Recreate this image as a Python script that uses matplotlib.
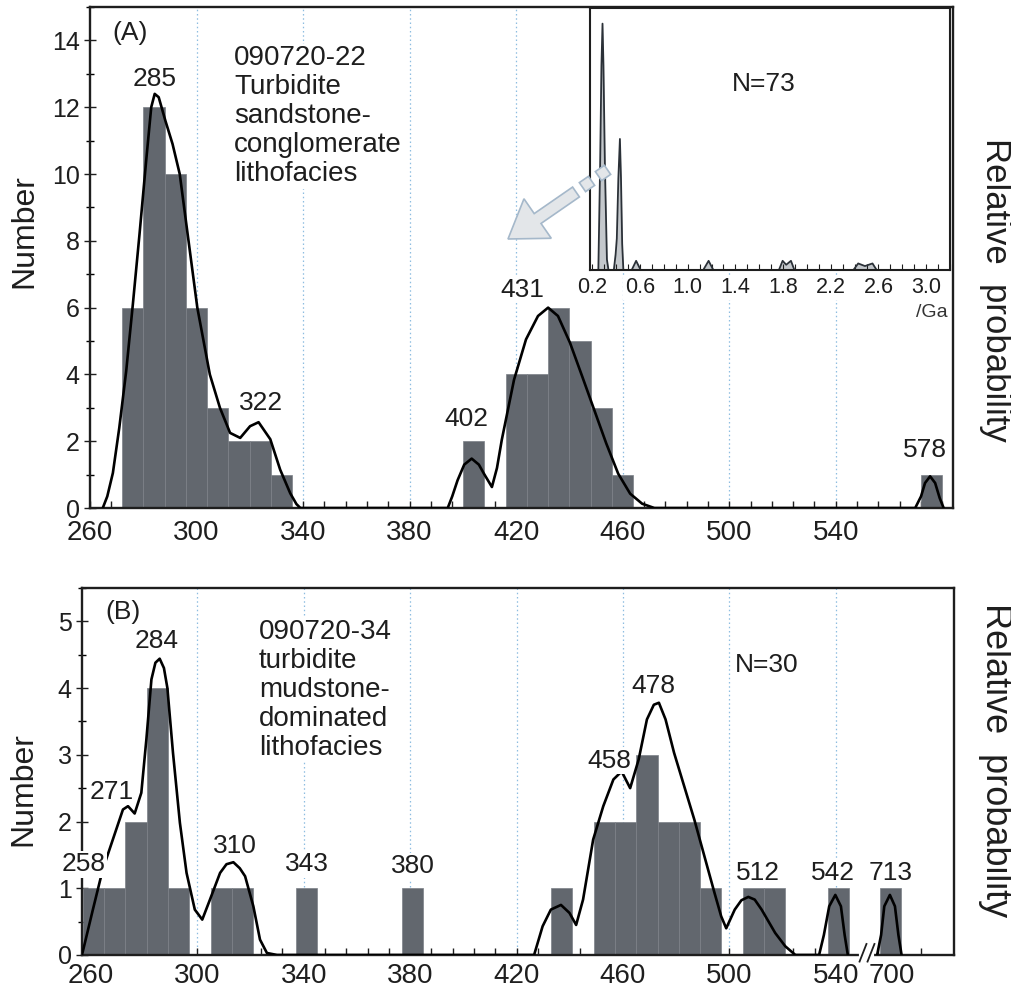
import numpy as np
import matplotlib.pyplot as plt
from matplotlib.patches import FancyArrow, Rectangle
from matplotlib.ticker import FixedLocator, MultipleLocator

plt.rcParams['font.family'] = ['Liberation Sans', 'DejaVu Sans']

# ---- (A) sample 090720-22, ages in Ma ----
a_bin_left = [272, 280, 288, 296, 304, 312, 320, 328, 400, 416, 424, 432, 440, 448, 456, 572]
a_counts = [6, 12, 10, 6, 3, 2, 2, 1, 2, 4, 4, 6, 5, 3, 1, 1]
a_kde_age = [264.8, 266.5, 268.6, 271, 273.6, 276.1, 278.6, 281.1, 283, 284.3, 285.8, 288.3,
             291, 293.7, 297, 300.3, 305, 308.8, 312.6, 316.4, 320.1, 323.3, 327.7, 331.4,
             335.2, 337.5, 339,
             394.3, 396, 398, 400.5, 403.3, 406, 407.9, 410.9, 412.8, 414.6, 419.2, 423.7,
             428.2, 432, 435.7, 440.2, 444.8, 449.3, 453.8, 458.3, 462.8, 467.3, 471.9,
             569.8, 572, 573.5, 575.4, 577.3, 579, 580.5]
a_kde_val = [0, 0.35, 1.05, 2.4, 4.1, 6.1, 8.2, 10.4, 12.0, 12.4, 12.3, 11.6,
             10.9, 10.0, 8.0, 6.0, 4.0, 3.0, 2.25, 2.1, 2.45, 2.57, 2.06, 1.15,
             0.44, 0.12, 0,
             0, 0.35, 0.83, 1.3, 1.48, 1.3, 1.03, 0.63, 1.2, 2.04, 3.84, 5.05,
             5.75, 6.0, 5.75, 4.95, 3.94, 2.94, 1.94, 1.03, 0.43, 0.13, 0,
             0, 0.35, 0.75, 0.95, 0.75, 0.3, 0]
a_peak_labels = ['285', '322', '402', '431', '578']

# ---- (B) sample 090720-34, ages in Ma (713 Ma grain sits after the axis break) ----
b_bin_left = [257, 265, 273, 281, 289, 305, 313, 337, 377, 433, 449, 457, 465, 473, 481,
              489, 505, 513, 537, 700.5]
b_counts = [1, 1, 2, 4, 1, 1, 1, 1, 1, 1, 2, 2, 3, 2, 2, 1, 1, 1, 1, 1]
b_kde_age = [256.7, 260.8, 264.5, 268.3, 272.1, 274, 276.5, 279, 280.9, 282.8, 284.3, 285.9,
             287.5, 288.8, 290.9, 293.5, 296, 299.1, 301.9, 304.8, 308.6, 311, 313.6, 316,
             318, 321.1, 323.6, 326.2, 330,
             426.6, 429.8, 432.9, 436.7, 439.9, 442.4, 445, 448.8, 452.6, 456.4, 459.5,
             462.7, 465.9, 469, 471.6, 473.5, 476, 479.2, 483, 486.8, 490.6, 494.4, 496.9,
             498.8, 502, 504.5, 507.1, 509.5, 512.1, 517.2, 521, 524.8,
             533.7, 535.5, 537.5, 539.8, 541.9, 543.3, 544.5]
b_kde_val = [0, 0.68, 1.28, 1.73, 2.18, 2.23, 2.12, 2.43, 3.23, 4.13, 4.38, 4.44,
             4.3, 4.0, 3.03, 1.98, 1.23, 0.68, 0.53, 0.83, 1.23, 1.36, 1.39, 1.3,
             1.18, 0.73, 0.23, 0.03, 0,
             0, 0.43, 0.68, 0.75, 0.63, 0.45, 0.83, 1.73, 2.23, 2.63, 2.75,
             2.5, 2.93, 3.53, 3.75, 3.78, 3.53, 3.03, 2.53, 2.03, 1.48, 0.93, 0.58,
             0.4, 0.68, 0.82, 0.87, 0.83, 0.68, 0.33, 0.13, 0,
             0, 0.3, 0.73, 0.9, 0.73, 0.3, 0]
b_kde2_age = [699.5, 701, 702.2, 704.3, 706.2, 707.5, 708.7]
b_kde2_val = [0, 0.3, 0.73, 0.9, 0.73, 0.3, 0]
b_peak_labels = ['258', '271', '284', '310', '343', '380', '458', '478', '512', '542', '713']

# ---- inset: full age spectrum of (A), in Ga ----
inset_age = [0.19, 0.25, 0.265, 0.276, 0.285, 0.293, 0.305, 0.322, 0.335, 0.38, 0.395, 0.405,
             0.418, 0.431, 0.44, 0.45, 0.46, 0.53, 0.567, 0.605, 1.13, 1.175, 1.215,
             1.765, 1.796, 1.826, 1.866, 1.895, 2.39, 2.43, 2.487, 2.55, 2.585, 3.2]
inset_prob = [0, 0, 0.4, 0.78, 0.94, 0.78, 0.4, 0.04, 0, 0, 0.06, 0.12,
              0.35, 0.5, 0.35, 0.1, 0, 0, 0.035, 0, 0, 0.035, 0,
              0, 0.035, 0.02, 0.035, 0, 0, 0.025, 0.015, 0.025, 0, 0]
inset_ticks = [0.2, 0.6, 1.0, 1.4, 1.8, 2.2, 2.6, 3.0]

BIN_W = 8
BREAK_SHIFT = 144       # 700 Ma is drawn where 556 would be
BAR = '#62676e'
GRID = '#8dbde0'
INK = '#1e1e1e'
WHITE_BOX = dict(boxstyle='square,pad=0.05', fc='white', ec='none')

# label centres in each panel's data coordinates (layout only)
a_label_xy = [(284.1, 12.84), (324.3, 3.15), (401.4, 2.67), (422.4, 6.54), (573.5, 1.74)]
b_label_xy = [(257.4, 1.36), (268, 2.44), (284.9, 4.71), (314.2, 1.63), (341.2, 1.36),
              (381.1, 1.33), (454.7, 2.91), (471.6, 4.03), (510.7, 1.23), (538.9, 1.23),
              (560.6, 1.23)]


def on_axis(ages):
    return [a - BREAK_SHIFT if a > 600 else a for a in ages]


def style_panel(ax, xticks, grid_at, xpad):
    for g in grid_at:
        ax.axvline(g, color=GRID, lw=0.9, ls=(0, (1.2, 2.2)), zorder=1)
    for s in ax.spines.values():
        s.set_linewidth(1.7)
        s.set_color(INK)
    ax.tick_params(axis='x', which='both', direction='in', length=5, width=1,
                   labelsize=20, pad=xpad, colors=INK)
    ax.tick_params(axis='y', which='major', direction='inout', length=9, width=1,
                   labelsize=18, pad=3, colors=INK)
    ax.tick_params(axis='y', which='minor', direction='inout', length=6, width=1)
    ax.xaxis.set_minor_locator(FixedLocator(xticks))


fig = plt.figure(figsize=(10.12, 9.89), dpi=100)

# ---------------- panel A ----------------
ax_a = fig.add_axes([0.0889, 0.4863, 0.8528, 0.5066])
ax_a.bar(a_bin_left, a_counts, width=BIN_W, align='edge', color=BAR,
         edgecolor='#7c8188', linewidth=0.5, zorder=2)
ax_a.plot(a_kde_age, a_kde_val, color='black', lw=1.9, zorder=3)
ax_a.set_xlim(260, 584)
ax_a.set_ylim(0, 15)
ax_a.set_xticks(range(260, 541, 40))
ax_a.set_yticks(range(0, 15, 2))
ax_a.yaxis.set_minor_locator(MultipleLocator(1))
style_panel(ax_a, np.arange(260, 584, 8), range(300, 541, 40), xpad=8.5)

for txt, (x, y) in zip(a_peak_labels, a_label_xy):
    ax_a.text(x, y, txt, fontsize=19, ha='center', va='center', color=INK,
              bbox=WHITE_BOX, zorder=4)
ax_a.text(275.1, 14.22, '(A)', fontsize=19, ha='center', va='center', color=INK)
ax_a.text(314.2, 13.85, '090720-22\nTurbidite\nsandstone-\nconglomerate\nlithofacies',
          fontsize=20, ha='left', va='top', linespacing=1.15, color=INK,
          bbox=WHITE_BOX, zorder=4)

# inset with the whole spectrum
ax_in = fig.add_axes([0.583, 0.727, 0.3557, 0.265])
ax_in.fill_between(inset_age, inset_prob, color='#c4c8cc', lw=0)
ax_in.plot(inset_age, inset_prob, color='#2b3138', lw=1.3)
ax_in.set_xlim(0.18, 3.2)
ax_in.set_ylim(0, 1)
ax_in.set_yticks([])
ax_in.set_xticks(inset_ticks)
ax_in.set_xticklabels([f'{t:.1f}' for t in inset_ticks])
ax_in.xaxis.set_minor_locator(MultipleLocator(0.1))
ax_in.tick_params(axis='x', which='both', direction='in', length=4, width=0.8,
                  labelsize=15.5, pad=5, colors=INK)
for lbl in ax_in.get_xticklabels():
    lbl.set_bbox(dict(boxstyle='square,pad=0.1', fc='white', ec='none'))
for s in ax_in.spines.values():
    s.set_linewidth(1.5)
    s.set_color(INK)
ax_in.text(1.64, 0.71, 'N=73', fontsize=19, ha='center', va='center', color=INK)
fig.text(932 / 1012, 1 - 312 / 989, '/Ga', fontsize=14, ha='center', va='center',
         color='#333333', bbox=WHITE_BOX)

# grey pointer from the inset down to the main panel
fig.add_artist(FancyArrow(5.76, 7.97, -0.68, -0.47, width=0.12, head_width=0.48,
                          head_length=0.36, length_includes_head=True,
                          fc='#e3e6e9', ec='#a5b8ca', lw=1.2,
                          transform=fig.dpi_scale_trans))
ang = np.degrees(np.arctan2(0.47, 0.68))
u = np.array([np.cos(np.radians(ang)), np.sin(np.radians(ang))])
v = np.array([-u[1], u[0]])
for c in [(5.87, 8.05), (6.03, 8.16)]:
    ll = np.array(c) - 0.055 * u - 0.055 * v
    fig.add_artist(Rectangle(ll, 0.11, 0.11, angle=ang, fc='#e3e6e9', ec='#a5b8ca',
                             lw=1.2, transform=fig.dpi_scale_trans))

# ---------------- panel B ----------------
ax_b = fig.add_axes([0.0810, 0.0344, 0.8617, 0.3711])
ax_b.bar(on_axis(b_bin_left), b_counts, width=BIN_W, align='edge', color=BAR,
         edgecolor='#7c8188', linewidth=0.5, zorder=2)
ax_b.plot(b_kde_age, b_kde_val, color='black', lw=1.9, zorder=3)
ax_b.plot(on_axis(b_kde2_age), b_kde2_val, color='black', lw=1.9, zorder=3)
ax_b.set_xlim(256.7, 584.4)
ax_b.set_ylim(0, 5.5)
ax_b.set_xticks(range(260, 541, 40))
ax_b.set_yticks(range(0, 6))
ax_b.yaxis.set_minor_locator(MultipleLocator(0.5))
style_panel(ax_b, list(range(260, 541, 8)) + on_axis([700, 708, 716]),
            range(300, 541, 40), xpad=6)
ax_b.annotate('700', xy=(561, 0), xycoords=('data', 'axes fraction'),
              xytext=(0, -6), textcoords='offset points', ha='center', va='top',
              fontsize=20, color=INK)

# axis break marks
ax_b.plot([549.5, 553.5], [0, 0], transform=ax_b.get_xaxis_transform(),
          color='white', lw=3, clip_on=False, zorder=5)
for x0 in (548.9, 551.9):
    ax_b.plot([x0, x0 + 2.6], [-0.018, 0.03], transform=ax_b.get_xaxis_transform(),
              color=INK, lw=1.3, clip_on=False, zorder=6)

for txt, (x, y) in zip(b_peak_labels, b_label_xy):
    ax_b.text(x, y, txt, fontsize=19, ha='center', va='center', color=INK,
              bbox=WHITE_BOX, zorder=4, clip_on=False)
ax_b.text(272.1, 5.14, '(B)', fontsize=19, ha='center', va='center', color=INK)
ax_b.text(323.2, 5.04, '090720-34\nturbidite\nmudstone-\ndominated\nlithofacies',
          fontsize=20, ha='left', va='top', linespacing=1.15, color=INK,
          bbox=WHITE_BOX, zorder=4)
ax_b.text(514.1, 4.35, 'N=30', fontsize=19, ha='center', va='center', color=INK)

# axis titles outside the frames
fig.text(24 / 1012, 1 - 231 / 989, 'Number', rotation=90, fontsize=23,
         ha='center', va='center', color=INK)
fig.text(23 / 1012, 1 - 789 / 989, 'Number', rotation=90, fontsize=23,
         ha='center', va='center', color=INK)
fig.text(996 / 1012, 1 - 290 / 989, 'Relative  probability', rotation=270, fontsize=25,
         ha='center', va='center', color=INK)
fig.text(996 / 1012, 1 - 760 / 989, 'Relative  probability', rotation=270, fontsize=26,
         ha='center', va='center', color=INK)

fig.savefig('out.png', dpi=100)
